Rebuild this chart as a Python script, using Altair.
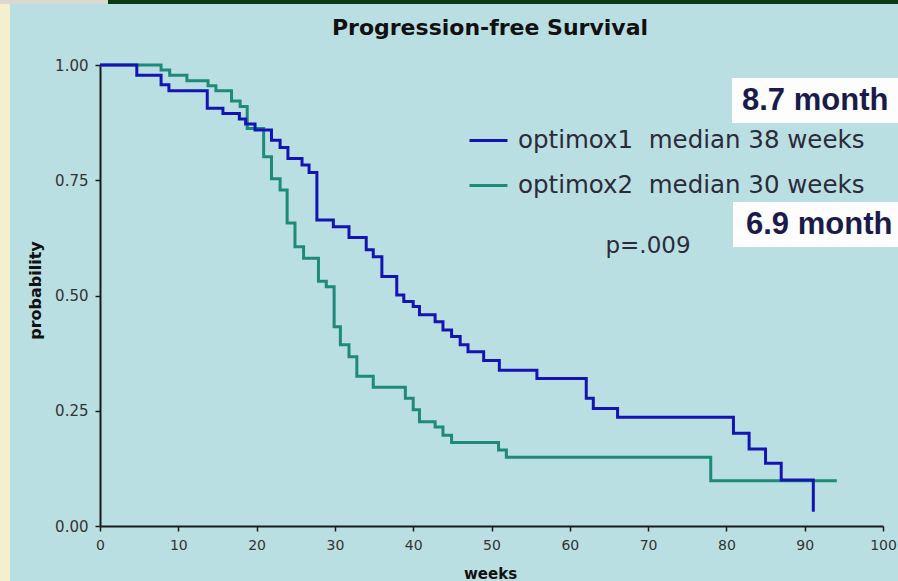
import altair as alt
import pandas as pd

# ---------------- data ----------------
series_names = ["optimox1\u00a0\u00a0median 38 weeks", "optimox2\u00a0\u00a0median 30 weeks"]
series_colors = ["#1414b4", "#1e8a7a"]

opt1_weeks = [0, 4.7, 7.8, 8.8, 13.7, 15.7, 17.8, 18.6, 19.8, 21.9,
              23.0, 24.0, 25.8, 26.7, 27.7, 29.8, 31.8, 34.0, 34.9, 36.0,
              37.9, 38.8, 40.0, 40.8, 42.8, 43.8, 44.9, 46.0, 47.0, 49.0,
              51.0, 55.8, 62.1, 63.0, 66.1, 80.9, 82.9, 85.0, 87.0, 91.1]
opt1_surv = [1.0, 0.978, 0.957, 0.944, 0.906, 0.895, 0.883, 0.872, 0.859, 0.837,
             0.821, 0.797, 0.783, 0.767, 0.664, 0.649, 0.626, 0.599, 0.584, 0.541,
             0.501, 0.487, 0.476, 0.458, 0.443, 0.425, 0.411, 0.393, 0.378, 0.359,
             0.338, 0.320, 0.277, 0.255, 0.236, 0.201, 0.167, 0.136, 0.100, 0.031]

opt2_weeks = [0, 7.8, 8.9, 11.1, 13.8, 14.8, 16.8, 17.9, 18.8, 20.9,
              21.9, 23.0, 23.9, 24.9, 26.0, 27.9, 28.9, 29.9, 30.7, 31.8,
              32.8, 34.9, 39.0, 40.0, 40.8, 42.8, 43.8, 44.9, 50.9, 51.9,
              78.0, 94.1]
opt2_surv = [1.0, 0.989, 0.978, 0.966, 0.955, 0.944, 0.922, 0.910, 0.862, 0.801,
             0.753, 0.729, 0.657, 0.606, 0.581, 0.531, 0.519, 0.432, 0.393, 0.367,
             0.325, 0.301, 0.277, 0.252, 0.226, 0.215, 0.197, 0.181, 0.165, 0.149,
             0.098, 0.098]

x_ticks = [0, 10, 20, 30, 40, 50, 60, 70, 80, 90, 100]
y_ticks = [0.0, 0.25, 0.5, 0.75, 1.0]

chart_title = "Progression-free Survival"
x_title = "weeks"
y_title = "probability"
month_labels = ["8.7 month", "6.9 month"]
p_label = "p=.009"

# ---------------- build ----------------
df = pd.concat([
    pd.DataFrame({"weeks": opt1_weeks, "surv": opt1_surv, "series": series_names[0]}),
    pd.DataFrame({"weeks": opt2_weeks, "surv": opt2_surv, "series": series_names[1]}),
], ignore_index=True)

AX = "#1a1a1a"
FONT = "DejaVu Sans"

x_enc = alt.X("weeks:Q",
              scale=alt.Scale(domain=[0, 100], nice=False, zero=True),
              axis=alt.Axis(values=x_ticks, format="d", title=x_title,
                            titleFont=FONT, titleFontWeight="bold", titleFontSize=15,
                            titleColor="#111111", titleX=390, titleY=47,
                            titleBaseline="middle", titleAlign="center",
                            labelFont=FONT, labelFontSize=14, labelColor="#333333",
                            labelPadding=7, labelFlush=False,
                            tickSize=5, tickColor=AX, tickWidth=1.5,
                            domainColor=AX, domainWidth=2, grid=False))
y_enc = alt.Y("surv:Q",
              scale=alt.Scale(domain=[0, 1], nice=False),
              axis=alt.Axis(values=y_ticks, format=".2f", title=y_title,
                            titleFont=FONT, titleFontWeight="bold", titleFontSize=16,
                            titleColor="#111111", titleX=-65, titleY=225,
                            titleAngle=270, titleAlign="center", titleBaseline="middle",
                            labelFont=FONT, labelFontSize=15, labelColor="#333333",
                            labelPadding=7, tickSize=5, tickColor=AX, tickWidth=1.5,
                            domainColor=AX, domainWidth=2, grid=False))
color_enc = alt.Color("series:N",
                      scale=alt.Scale(domain=series_names, range=series_colors),
                      legend=alt.Legend(orient="none", legendX=368, legendY=55,
                                        title=None, symbolType="stroke",
                                        symbolSize=1444, symbolStrokeWidth=3,
                                        labelFont=FONT, labelFontSize=24.5,
                                        labelColor="#2b2b3a", labelLimit=600,
                                        labelOffset=9, rowPadding=13, padding=0))

base = alt.Chart(df)
line_green = base.transform_filter(alt.datum.series == series_names[1]).mark_line(
    interpolate="step-after", strokeWidth=3).encode(x=x_enc, y=y_enc, color=color_enc)
line_blue = base.transform_filter(alt.datum.series == series_names[0]).mark_line(
    interpolate="step-after", strokeWidth=3).encode(x=x_enc, y=y_enc, color=color_enc)

one = pd.DataFrame({"k": [0]})

# slide decorations (outside the plot area)
left_strip = alt.Chart(one).mark_rect(color="#f4f0cf").encode(
    x=alt.value(-100), x2=alt.value(-90), y=alt.value(-65), y2=alt.value(516))
top_bar = alt.Chart(one).mark_rect(color="#0b3b14").encode(
    x=alt.value(8), x2=alt.value(798), y=alt.value(-65), y2=alt.value(-61))
top_left = alt.Chart(one).mark_rect(color="#d9d9d2").encode(
    x=alt.value(-100), x2=alt.value(8), y=alt.value(-65), y2=alt.value(-61))

# chart heading
title_text = alt.Chart(pd.DataFrame({"label": [chart_title]})).mark_text(
    align="center", baseline="middle", font=FONT, fontSize=22, fontWeight="bold",
    color="#111111").encode(x=alt.value(390), y=alt.value(-37), text="label:N")


def month_box(label, x0, x1, y0, y1, tx, ty):
    d = pd.DataFrame({"label": [label]})
    r = alt.Chart(d).mark_rect(color="#fdfdfd").encode(
        x=alt.value(x0), x2=alt.value(x1), y=alt.value(y0), y2=alt.value(y1))
    t = alt.Chart(d).mark_text(align="left", baseline="middle", font="Liberation Sans",
                               fontWeight="bold", fontSize=31, color="#1b1b4b").encode(
        x=alt.value(tx), y=alt.value(ty), text="label:N")
    return r + t


box1 = month_box(month_labels[0], 632, 800, 13, 58, 642, 36)
box2 = month_box(month_labels[1], 633, 800, 137, 182, 646, 160)

p_text = alt.Chart(pd.DataFrame({"label": [p_label]})).mark_text(
    align="center", baseline="middle", font=FONT, fontSize=23, color="#2b2b3a").encode(
    x=alt.value(548), y=alt.value(181), text="label:N")

chart = alt.layer(
    left_strip, top_left, top_bar, title_text, box1, box2, p_text, line_green, line_blue
).properties(
    width=783, height=461,
    padding={"left": 100, "top": 65, "right": 15, "bottom": 55},
    autosize=alt.AutoSizeParams(type="none"),
    background="#badfe2",
).configure_view(strokeWidth=0)

chart.save("out.html", embed_options={"renderer": "svg", "actions": False})
